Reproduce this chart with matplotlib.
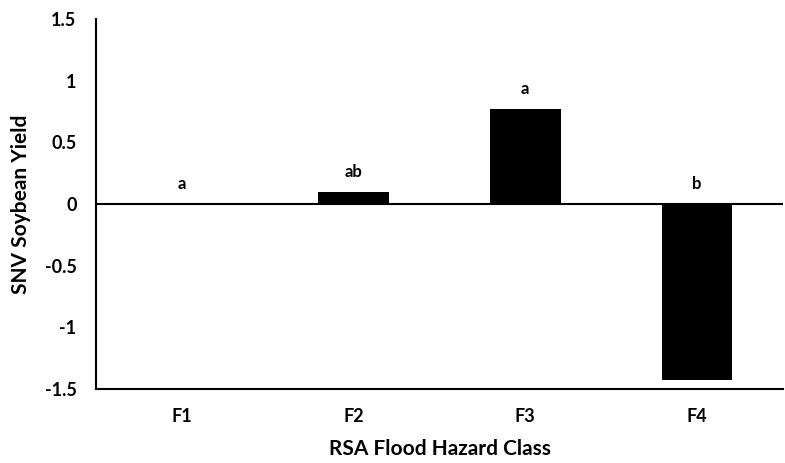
import matplotlib
matplotlib.use("Agg")
import matplotlib.pyplot as plt
import numpy as np

categories = ["F1", "F2", "F3", "F4"]
values = [0.0, 0.10, 0.77, -1.43]
letters = ["a", "ab", "a", "b"]
yticks = [-1.5, -1, -0.5, 0, 0.5, 1, 1.5]
ytick_labels = ["-1.5", "-1", "-0.5", "0", "0.5", "1", "1.5"]

plt.rcParams['font.family'] = ['Lato', 'DejaVu Sans']
plt.rcParams['font.weight'] = 'bold'

fig = plt.figure(figsize=(7.85, 4.63), dpi=100)
ax = fig.add_axes([0.1223, 0.160, 0.875, 0.799])

x = np.arange(len(categories))
ax.bar(x, values, width=0.41, color='black', zorder=3)
ax.axhline(0, color='black', lw=1.5, zorder=2)

for xi, v, lab in zip(x, values, letters):
    ax.text(xi, max(v, 0) + 0.16, lab, ha='center', va='center',
            fontsize=12, fontweight='bold')

ax.set_xlim(-0.5, len(categories) - 0.5)
ax.set_ylim(-1.5, 1.5)
ax.set_yticks(yticks)
ax.set_yticklabels(ytick_labels, fontsize=13, fontweight='bold')
ax.set_xticks(x)
ax.set_xticklabels(categories, fontsize=13, fontweight='bold')
ax.tick_params(axis='both', length=0)
ax.tick_params(axis='y', pad=14)
ax.tick_params(axis='x', pad=14)

for s in ['top', 'right']:
    ax.spines[s].set_visible(False)
for s in ['left', 'bottom']:
    ax.spines[s].set_linewidth(1.5)
    ax.spines[s].set_color('black')

ax.set_ylabel("SNV Soybean Yield", fontsize=15, fontweight='bold', labelpad=10)
ax.set_xlabel("RSA Flood Hazard Class", fontsize=15, fontweight='bold', labelpad=10)

fig.savefig("out.png", dpi=100)
